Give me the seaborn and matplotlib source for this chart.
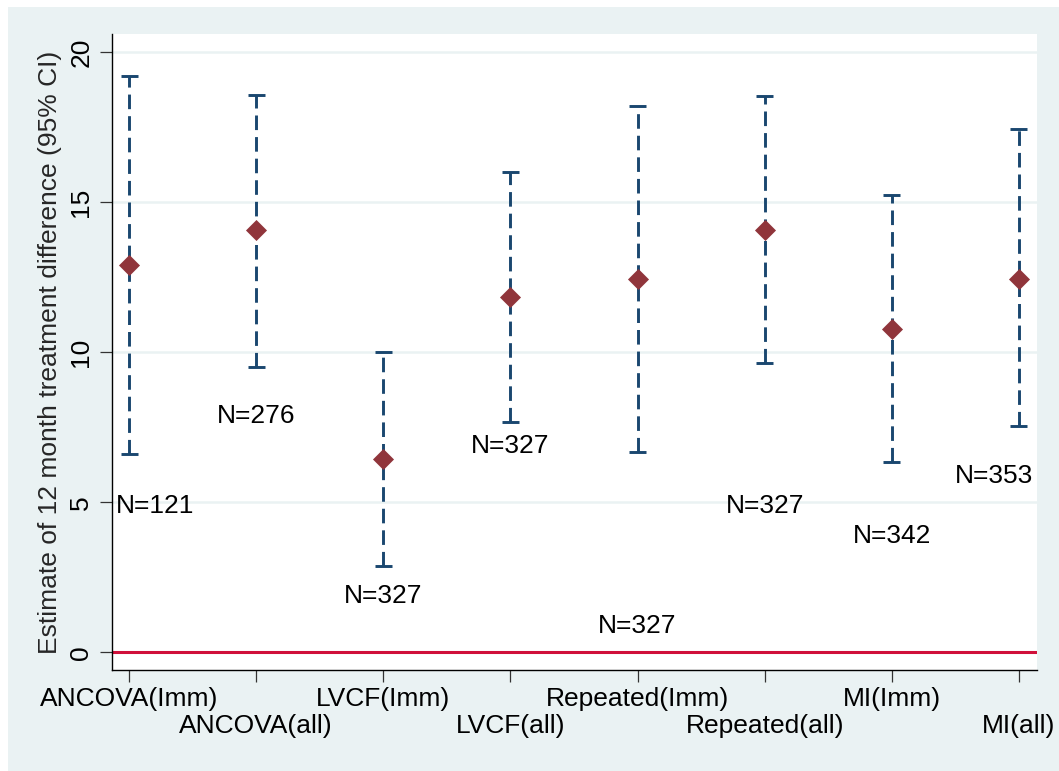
import matplotlib
matplotlib.use("Agg")
import matplotlib.pyplot as plt
import matplotlib.transforms as mtransforms
from matplotlib.patches import Rectangle
import seaborn as sns
import pandas as pd

# ---- data ----
methods = ["ANCOVA(Imm)", "ANCOVA(all)", "LVCF(Imm)", "LVCF(all)",
           "Repeated(Imm)", "Repeated(all)", "MI(Imm)", "MI(all)"]
estimate = [12.9, 14.08, 6.45, 11.85, 12.44, 14.08, 10.78, 12.45]
ci_low = [6.62, 9.52, 2.88, 7.69, 6.67, 9.63, 6.35, 7.54]
ci_high = [19.21, 18.57, 10.02, 16.02, 18.21, 18.54, 15.25, 17.43]
n_labels = ["N=121", "N=276", "N=327", "N=327", "N=327", "N=327", "N=342", "N=353"]
n_label_y = [5, 8, 2, 7, 1, 5, 4, 6]
y_ticks = [0, 5, 10, 15, 20]

pos = list(range(1, len(methods) + 1))
df = pd.DataFrame({"pos": pos, "method": methods, "est": estimate,
                   "lo": ci_low, "hi": ci_high})

NAVY = "#1A476F"
CRAN = "#90353B"
BG = "#EAF2F3"
RED = "#D0103A"
FS = 19

sns.set_theme(style="white")
plt.rcParams["font.family"] = ["Liberation Sans", "DejaVu Sans"]

fig = plt.figure(figsize=(10.59, 7.71), dpi=100)
fig.patch.set_facecolor("white")
fig.patches.append(Rectangle((8 / 1059, 0), 1 - 8 / 1059, 1 - 7 / 771,
                             transform=fig.transFigure, facecolor=BG,
                             edgecolor="none", zorder=-10))
ax = fig.add_axes([112 / 1059, 1 - 670 / 771, (1037 - 112) / 1059, (670 - 34) / 771])
ax.set_facecolor("white")

# grid lines
for yv in y_ticks[1:]:
    ax.axhline(yv, color=BG, lw=1.8, zorder=0)
# reference line
ax.axhline(0, color=RED, lw=2.2, zorder=1)

# CI whiskers
ax.vlines(df["pos"], df["lo"], df["hi"], colors=NAVY, lw=2.1,
          linestyles=[(0, (5.0, 2.4))], zorder=2)
capw = 0.067
ax.hlines(df["lo"], df["pos"] - capw, df["pos"] + capw, colors=NAVY, lw=2.1, zorder=2)
ax.hlines(df["hi"], df["pos"] - capw, df["pos"] + capw, colors=NAVY, lw=2.1, zorder=2)

# point estimates
sns.scatterplot(data=df, x="pos", y="est", marker="D", s=115, color=CRAN,
                linewidth=0, zorder=3, ax=ax, legend=False)

ax.set_xlim(0.866, 8.142)
ax.set_ylim(-0.59, 20.61)

# N labels
lo_x, hi_x = ax.get_xlim()
shift = ax.transData + mtransforms.ScaledTranslation(0, -3 / 72, fig.dpi_scale_trans)
for i, (lab, yv) in enumerate(zip(n_labels, n_label_y)):
    if i == 0:
        ax.text(lo_x + 0.03, yv, lab, ha="left", va="center", fontsize=FS,
                color="black", transform=shift)
    elif i == len(n_labels) - 1:
        ax.text(hi_x - 0.03, yv, lab, ha="right", va="center", fontsize=FS,
                color="black", transform=shift)
    else:
        ax.text(pos[i], yv, lab, ha="center", va="center", fontsize=FS,
                color="black", transform=shift)

# axes styling
for s in ["top", "right"]:
    ax.spines[s].set_visible(False)
for s in ["left", "bottom"]:
    ax.spines[s].set_color("black")
    ax.spines[s].set_linewidth(1.0)

ax.set_yticks(y_ticks)
ax.set_yticklabels([str(v) for v in y_ticks], rotation=90, va="center", fontsize=FS)
ax.set_xticks(pos)
ax.set_xticklabels(methods, fontsize=FS)
ax.tick_params(axis="both", which="major", direction="out", length=8.5, width=0.9,
               color="#333333", labelcolor="black", left=True, bottom=True)
ax.tick_params(axis="y", pad=5)
for i, t in enumerate(ax.xaxis.get_major_ticks()):
    t.set_pad(4 if i % 2 == 0 else 23)

ax.set_xlabel("")
ax.set_ylabel("Estimate of 12 month treatment difference (95% CI)", fontsize=FS,
              labelpad=5)

fig.savefig("out.png", dpi=100, facecolor=fig.get_facecolor())
